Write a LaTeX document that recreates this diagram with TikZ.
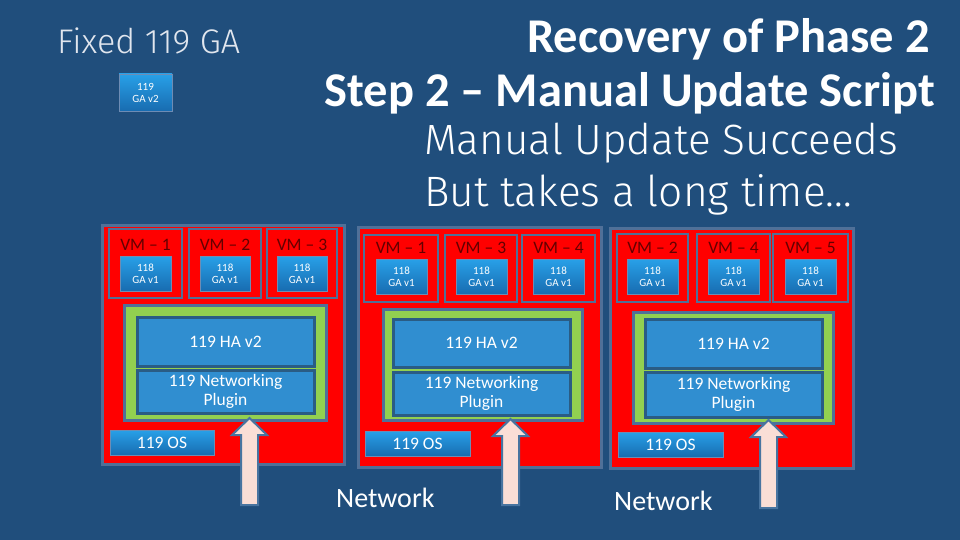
\documentclass[tikz,border=0pt]{standalone}
\usepackage{fontspec}
\setmainfont{Carlito}[Ligatures={NoCommon}]
\newfontfamily\lightfont{Fira Sans}[UprightFont={* Light}]
\definecolor{bg}{RGB}{32,78,124}
\definecolor{frame}{RGB}{80,112,152}
\definecolor{hostred}{RGB}{255,0,0}
\definecolor{vmtext}{RGB}{100,0,0}
\definecolor{gatop}{RGB}{40,160,232}
\definecolor{gabot}{RGB}{24,108,176}
\definecolor{gaframe}{RGB}{110,140,180}
\definecolor{hablue}{RGB}{48,142,208}
\definecolor{haframe}{RGB}{42,92,132}
\definecolor{grn}{RGB}{146,208,80}
\definecolor{arrfill}{RGB}{250,222,214}
\definecolor{arrline}{RGB}{72,116,160}
\definecolor{dimwhite}{RGB}{225,230,238}
\newcommand\mybox[7]{\node[#2, minimum width={(#5)-(#3)}, minimum height={(#6)-(#4)}, inner sep=0pt, outer sep=0pt] (#1) at ({((#3)+(#5))/2},{((#4)+(#6))/2}) {#7};}
\newcommand\blockarr[4]{%
  \coordinate (#1) at (#2,#3);
  \draw[arrowstyle] (#1) -- ++(17.5,17) -- ++(-9,0) -- (#2+8.5,#4) -- (#2-8.5,#4) -- (#2-8.5,#3+17) -- ++(-9,0) -- cycle;}
\tikzset{
  hostbox/.style={draw=frame, line width=3pt, fill=hostred},
  vmbox/.style={draw=frame, line width=2.5pt, fill=hostred},
  gabox/.style={draw=gaframe, line width=0.8pt, top color=gatop, bottom color=gabot, text=white, font=\fontsize{11}{12}\selectfont, align=center},
  osbox/.style={draw=gaframe, line width=0.8pt, top color=gatop, bottom color=gabot, text=white, font=\fontsize{17.5}{20}\selectfont},
  grnbox/.style={draw=frame, line width=3pt, fill=grn},
  habox/.style={draw=haframe, line width=3pt, fill=hablue, text=white, font=\fontsize{17.5}{19}\selectfont, align=center},
  vmlabel/.style={text=vmtext, font=\fontsize{17.5}{19}\selectfont, inner sep=0pt},
  netlabel/.style={text=white, font=\fontsize{28}{30}\selectfont, inner sep=0pt, anchor=base west},
  arrowstyle/.style={draw=arrline, line width=2pt, fill=arrfill, line join=miter},
}
\begin{document}
\begin{tikzpicture}[x=1pt,y=-1pt]
\useasboundingbox (0,0) rectangle (960,540);
\fill[bg] (0,0) rectangle (960,540);

% titles
\node[anchor=base east, text=white, font=\bfseries\fontsize{48.5}{50}\selectfont, inner sep=0pt] (t1) at (930,53) {Recovery of Phase 2};
\node[anchor=base east, text=white, font=\bfseries\fontsize{48.5}{50}\selectfont, inner sep=0pt] (t2) at (935,107) {Step 2 – Manual Update Script};
\node[anchor=base west, text=white, font=\lightfont\fontsize{43}{45}\selectfont, inner sep=0pt] (s1) at (424,155) {\resizebox{474pt}{!}{Manual Update Succeeds}};
\node[anchor=base west, text=white, font=\lightfont\fontsize{43}{45}\selectfont, inner sep=0pt] (s2) at (424,207) {\resizebox{428pt}{!}{But takes a long time…}};
\node[anchor=base west, text=dimwhite, font=\lightfont\fontsize{31}{33}\selectfont, inner sep=0pt] (fx) at (57,54) {\resizebox{183pt}{!}{Fixed 119 GA}};
\mybox{gav2}{gabox}{119}{74}{172}{111}{119\\GA v2}

% ---------- host 1 ----------
\mybox{h1}{hostbox}{102}{225}{344}{464}{}
\mybox{h1v1}{vmbox}{109}{229}{182}{298}{}
\mybox{h1v2}{vmbox}{189}{229}{261}{298}{}
\mybox{h1v3}{vmbox}{267}{229}{337}{298}{}
\node[vmlabel] (h1l1) at (145.5,245) {VM – 1};
\node[vmlabel] (h1l2) at (225,245) {VM – 2};
\node[vmlabel] (h1l3) at (302,245) {VM – 3};
\mybox{h1g1}{gabox}{120}{256}{171}{291}{118\\GA v1}
\mybox{h1g2}{gabox}{200}{256}{250}{291}{118\\GA v1}
\mybox{h1g3}{gabox}{277}{256}{327}{291}{118\\GA v1}
\mybox{h1gr}{grnbox}{124}{305}{326}{420}{}
\mybox{h1ha}{habox}{137}{317}{314}{366}{119 HA v2}
\mybox{h1nt}{habox}{137}{370}{314}{413}{119 Networking\\Plugin}
\mybox{h1os}{osbox}{110}{430}{214}{455}{119 OS}
\blockarr{a1}{249.5}{418}{505}

% ---------- host 2 ----------
\mybox{h2}{hostbox}{358}{227}{601}{467}{}
\mybox{h2v1}{vmbox}{364}{235}{438}{302}{}
\mybox{h2v2}{vmbox}{445}{235}{517}{302}{}
\mybox{h2v3}{vmbox}{522}{235}{595}{302}{}
\node[vmlabel] (h2l1) at (401,248) {VM – 1};
\node[vmlabel] (h2l2) at (481,248) {VM – 3};
\node[vmlabel] (h2l3) at (558.5,248) {VM – 4};
\mybox{h2g1}{gabox}{376}{259}{427}{294}{118\\GA v1}
\mybox{h2g2}{gabox}{456}{259}{507}{294}{118\\GA v1}
\mybox{h2g3}{gabox}{533}{259}{584}{294}{118\\GA v1}
\mybox{h2gr}{grnbox}{383}{309}{582}{420}{}
\mybox{h2ha}{habox}{393}{319}{570}{367}{119 HA v2}
\mybox{h2nt}{habox}{393}{372}{570}{415}{119 Networking\\Plugin}
\mybox{h2os}{osbox}{365}{431}{470}{456}{119 OS}
\blockarr{a2}{510.5}{419}{505}
\node[netlabel] (n1) at (336,507) {Network};

% ---------- host 3 ----------
\mybox{h3}{hostbox}{610}{228}{853}{468}{}
\mybox{h3v1}{vmbox}{617}{234}{688}{302}{}
\mybox{h3v2}{vmbox}{697}{234}{770}{302}{}
\mybox{h3v3}{vmbox}{773}{234}{848}{302}{}
\node[vmlabel] (h3l1) at (652.5,248) {VM – 2};
\node[vmlabel] (h3l2) at (733.5,248) {VM – 4};
\node[vmlabel] (h3l3) at (810.5,248) {VM – 5};
\mybox{h3g1}{gabox}{627}{259}{678}{294}{118\\GA v1}
\mybox{h3g2}{gabox}{708}{259}{759}{294}{118\\GA v1}
\mybox{h3g3}{gabox}{785}{259}{836}{294}{118\\GA v1}
\mybox{h3gr}{grnbox}{633}{312}{833}{423}{}
\mybox{h3ha}{habox}{645}{319}{822}{368}{119 HA v2}
\mybox{h3nt}{habox}{645}{372}{822}{417}{119 Networking\\Plugin}
\mybox{h3os}{osbox}{618}{432}{723}{457}{119 OS}
\blockarr{a3}{768.5}{420}{508}
\node[netlabel] (n2) at (614,510) {Network};
\end{tikzpicture}
\end{document}
